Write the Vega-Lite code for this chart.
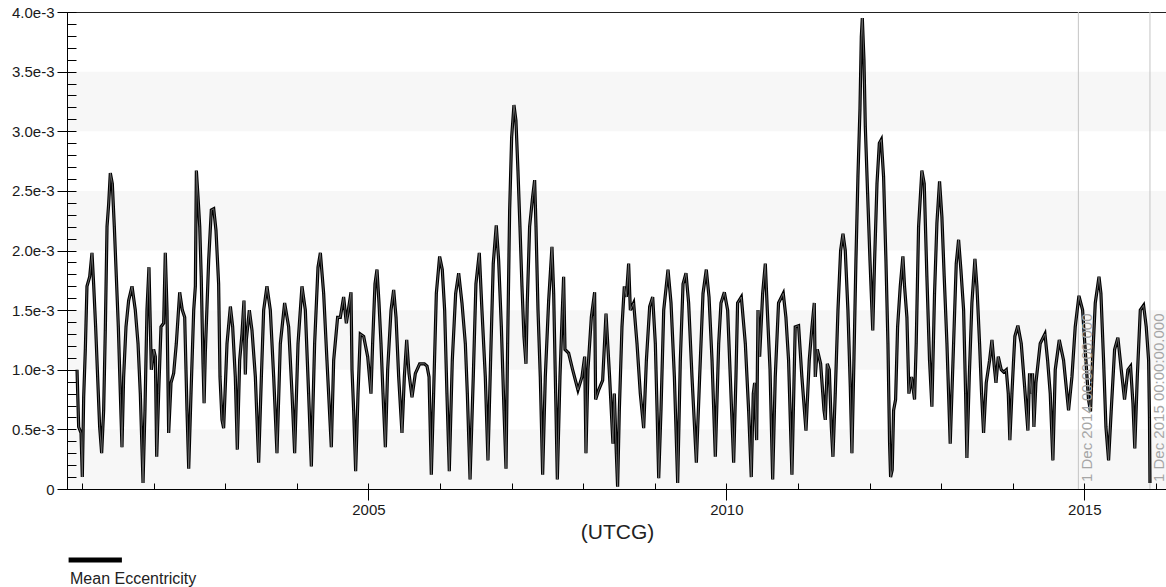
{
  "$schema": "https://vega.github.io/schema/vega-lite/v6.json",
  "width": 1100,
  "height": 477,
  "autosize": {"type": "none"},
  "padding": {"left": 67, "top": 12, "right": 0, "bottom": 98},
  "background": "white",
  "config": {
    "font": "Liberation Sans",
    "view": {"stroke": "#222222", "strokeWidth": 1},
    "axis": {"labelFont": "Liberation Sans", "titleFont": "Liberation Sans", "grid": false}
  },
  "datasets": {
    "ecc": [
      {"t":2000.930,"e":0.00100},{"t":2000.953,"e":0.00052},{"t":2000.986,"e":0.00047},{"t":2001.004,"e":0.00010},{"t":2001.023,"e":0.00077},{"t":2001.046,"e":0.00117},{"t":2001.069,"e":0.00170},{"t":2001.107,"e":0.00178},{"t":2001.139,"e":0.00198},{"t":2001.162,"e":0.00172},{"t":2001.190,"e":0.00136},{"t":2001.218,"e":0.00094},{"t":2001.246,"e":0.00052},{"t":2001.274,"e":0.00030},{"t":2001.302,"e":0.00066},{"t":2001.325,"e":0.00133},{"t":2001.349,"e":0.00220},{"t":2001.372,"e":0.00239},{"t":2001.395,"e":0.00265},{"t":2001.423,"e":0.00256},{"t":2001.451,"e":0.00220},{"t":2001.479,"e":0.00178},{"t":2001.507,"e":0.00136},{"t":2001.535,"e":0.00080},{"t":2001.558,"e":0.00035},{"t":2001.581,"e":0.00094},{"t":2001.614,"e":0.00136},{"t":2001.651,"e":0.00158},{"t":2001.698,"e":0.00170},{"t":2001.744,"e":0.00150},{"t":2001.782,"e":0.00122},{"t":2001.814,"e":0.00080},{"t":2001.852,"e":0.00005},{"t":2001.879,"e":0.00066},{"t":2001.907,"e":0.00150},{"t":2001.935,"e":0.00186},{"t":2001.954,"e":0.00136},{"t":2001.968,"e":0.00100},{"t":2002.000,"e":0.00117},{"t":2002.024,"e":0.00111},{"t":2002.043,"e":0.00027},{"t":2002.070,"e":0.00080},{"t":2002.103,"e":0.00136},{"t":2002.140,"e":0.00139},{"t":2002.163,"e":0.00198},{"t":2002.187,"e":0.00150},{"t":2002.210,"e":0.00047},{"t":2002.243,"e":0.00089},{"t":2002.280,"e":0.00097},{"t":2002.317,"e":0.00122},{"t":2002.364,"e":0.00165},{"t":2002.401,"e":0.00150},{"t":2002.434,"e":0.00144},{"t":2002.466,"e":0.00066},{"t":2002.490,"e":0.00017},{"t":2002.522,"e":0.00080},{"t":2002.560,"e":0.00150},{"t":2002.583,"e":0.00170},{"t":2002.597,"e":0.00267},{"t":2002.620,"e":0.00245},{"t":2002.644,"e":0.00220},{"t":2002.665,"e":0.00178},{"t":2002.690,"e":0.00105},{"t":2002.705,"e":0.00072},{"t":2002.722,"e":0.00114},{"t":2002.769,"e":0.00192},{"t":2002.806,"e":0.00234},{"t":2002.839,"e":0.00235},{"t":2002.871,"e":0.00217},{"t":2002.908,"e":0.00172},{"t":2002.927,"e":0.00094},{"t":2002.955,"e":0.00058},{"t":2002.978,"e":0.00051},{"t":2003.025,"e":0.00122},{"t":2003.072,"e":0.00153},{"t":2003.104,"e":0.00136},{"t":2003.141,"e":0.00094},{"t":2003.169,"e":0.00033},{"t":2003.202,"e":0.00108},{"t":2003.234,"e":0.00130},{"t":2003.262,"e":0.00158},{"t":2003.281,"e":0.00096},{"t":2003.295,"e":0.00125},{"t":2003.337,"e":0.00150},{"t":2003.374,"e":0.00133},{"t":2003.421,"e":0.00094},{"t":2003.467,"e":0.00022},{"t":2003.505,"e":0.00094},{"t":2003.537,"e":0.00150},{"t":2003.583,"e":0.00170},{"t":2003.630,"e":0.00150},{"t":2003.677,"e":0.00094},{"t":2003.723,"e":0.00030},{"t":2003.770,"e":0.00122},{"t":2003.830,"e":0.00156},{"t":2003.886,"e":0.00136},{"t":2003.933,"e":0.00080},{"t":2003.970,"e":0.00030},{"t":2004.017,"e":0.00122},{"t":2004.072,"e":0.00170},{"t":2004.119,"e":0.00150},{"t":2004.165,"e":0.00080},{"t":2004.203,"e":0.00019},{"t":2004.249,"e":0.00122},{"t":2004.296,"e":0.00186},{"t":2004.329,"e":0.00198},{"t":2004.375,"e":0.00164},{"t":2004.421,"e":0.00108},{"t":2004.482,"e":0.00035},{"t":2004.515,"e":0.00108},{"t":2004.570,"e":0.00144},{"t":2004.608,"e":0.00144},{"t":2004.654,"e":0.00161},{"t":2004.692,"e":0.00139},{"t":2004.757,"e":0.00165},{"t":2004.771,"e":0.00100},{"t":2004.794,"e":0.00066},{"t":2004.822,"e":0.00015},{"t":2004.855,"e":0.00080},{"t":2004.887,"e":0.00130},{"t":2004.934,"e":0.00128},{"t":2004.990,"e":0.00111},{"t":2005.036,"e":0.00080},{"t":2005.059,"e":0.00122},{"t":2005.092,"e":0.00172},{"t":2005.120,"e":0.00184},{"t":2005.148,"e":0.00156},{"t":2005.176,"e":0.00122},{"t":2005.204,"e":0.00080},{"t":2005.237,"e":0.00035},{"t":2005.269,"e":0.00100},{"t":2005.316,"e":0.00150},{"t":2005.353,"e":0.00167},{"t":2005.386,"e":0.00144},{"t":2005.423,"e":0.00094},{"t":2005.469,"e":0.00047},{"t":2005.502,"e":0.00094},{"t":2005.535,"e":0.00125},{"t":2005.567,"e":0.00097},{"t":2005.609,"e":0.00077},{"t":2005.656,"e":0.00097},{"t":2005.716,"e":0.00105},{"t":2005.782,"e":0.00105},{"t":2005.819,"e":0.00103},{"t":2005.847,"e":0.00094},{"t":2005.879,"e":0.00012},{"t":2005.911,"e":0.00080},{"t":2005.949,"e":0.00164},{"t":2005.995,"e":0.00195},{"t":2006.032,"e":0.00184},{"t":2006.065,"e":0.00150},{"t":2006.097,"e":0.00080},{"t":2006.130,"e":0.00015},{"t":2006.172,"e":0.00108},{"t":2006.219,"e":0.00164},{"t":2006.261,"e":0.00181},{"t":2006.307,"e":0.00156},{"t":2006.354,"e":0.00122},{"t":2006.382,"e":0.00080},{"t":2006.420,"e":0.00008},{"t":2006.465,"e":0.00094},{"t":2006.502,"e":0.00172},{"t":2006.549,"e":0.00198},{"t":2006.586,"e":0.00150},{"t":2006.633,"e":0.00094},{"t":2006.670,"e":0.00024},{"t":2006.707,"e":0.00108},{"t":2006.744,"e":0.00189},{"t":2006.786,"e":0.00221},{"t":2006.819,"e":0.00192},{"t":2006.857,"e":0.00136},{"t":2006.894,"e":0.00066},{"t":2006.922,"e":0.00017},{"t":2006.945,"e":0.00122},{"t":2006.973,"e":0.00234},{"t":2007.001,"e":0.00295},{"t":2007.033,"e":0.00322},{"t":2007.061,"e":0.00309},{"t":2007.089,"e":0.00267},{"t":2007.117,"e":0.00220},{"t":2007.145,"e":0.00170},{"t":2007.173,"e":0.00128},{"t":2007.201,"e":0.00105},{"t":2007.219,"e":0.00156},{"t":2007.252,"e":0.00220},{"t":2007.294,"e":0.00245},{"t":2007.322,"e":0.00259},{"t":2007.341,"e":0.00220},{"t":2007.369,"e":0.00150},{"t":2007.401,"e":0.00094},{"t":2007.434,"e":0.00012},{"t":2007.471,"e":0.00094},{"t":2007.518,"e":0.00158},{"t":2007.564,"e":0.00203},{"t":2007.588,"e":0.00164},{"t":2007.611,"e":0.00094},{"t":2007.639,"e":0.00008},{"t":2007.676,"e":0.00094},{"t":2007.709,"e":0.00150},{"t":2007.727,"e":0.00178},{"t":2007.746,"e":0.00117},{"t":2007.797,"e":0.00114},{"t":2007.853,"e":0.00100},{"t":2007.927,"e":0.00083},{"t":2007.983,"e":0.00094},{"t":2008.021,"e":0.00111},{"t":2008.039,"e":0.00030},{"t":2008.067,"e":0.00100},{"t":2008.114,"e":0.00144},{"t":2008.160,"e":0.00165},{"t":2008.174,"e":0.00075},{"t":2008.216,"e":0.00083},{"t":2008.272,"e":0.00091},{"t":2008.319,"e":0.00147},{"t":2008.369,"e":0.00094},{"t":2008.416,"e":0.00038},{"t":2008.435,"e":0.00080},{"t":2008.463,"e":0.00030},{"t":2008.481,"e":0.00002},{"t":2008.505,"e":0.00066},{"t":2008.542,"e":0.00136},{"t":2008.575,"e":0.00170},{"t":2008.603,"e":0.00161},{"t":2008.635,"e":0.00189},{"t":2008.659,"e":0.00150},{"t":2008.705,"e":0.00156},{"t":2008.752,"e":0.00122},{"t":2008.798,"e":0.00080},{"t":2008.845,"e":0.00051},{"t":2008.883,"e":0.00108},{"t":2008.929,"e":0.00153},{"t":2008.971,"e":0.00161},{"t":2009.008,"e":0.00122},{"t":2009.032,"e":0.00066},{"t":2009.055,"e":0.00009},{"t":2009.087,"e":0.00066},{"t":2009.125,"e":0.00150},{"t":2009.185,"e":0.00184},{"t":2009.227,"e":0.00156},{"t":2009.274,"e":0.00094},{"t":2009.320,"e":0.00005},{"t":2009.357,"e":0.00108},{"t":2009.395,"e":0.00172},{"t":2009.436,"e":0.00181},{"t":2009.473,"e":0.00156},{"t":2009.520,"e":0.00094},{"t":2009.581,"e":0.00022},{"t":2009.627,"e":0.00094},{"t":2009.674,"e":0.00164},{"t":2009.720,"e":0.00184},{"t":2009.758,"e":0.00161},{"t":2009.800,"e":0.00108},{"t":2009.846,"e":0.00027},{"t":2009.893,"e":0.00122},{"t":2009.925,"e":0.00156},{"t":2009.972,"e":0.00165},{"t":2010.018,"e":0.00150},{"t":2010.055,"e":0.00094},{"t":2010.102,"e":0.00022},{"t":2010.134,"e":0.00094},{"t":2010.157,"e":0.00156},{"t":2010.209,"e":0.00161},{"t":2010.265,"e":0.00122},{"t":2010.311,"e":0.00066},{"t":2010.348,"e":0.00010},{"t":2010.376,"e":0.00080},{"t":2010.395,"e":0.00089},{"t":2010.423,"e":0.00041},{"t":2010.442,"e":0.00150},{"t":2010.465,"e":0.00111},{"t":2010.507,"e":0.00164},{"t":2010.544,"e":0.00189},{"t":2010.572,"e":0.00150},{"t":2010.610,"e":0.00100},{"t":2010.647,"e":0.00008},{"t":2010.683,"e":0.00094},{"t":2010.729,"e":0.00156},{"t":2010.795,"e":0.00164},{"t":2010.832,"e":0.00144},{"t":2010.869,"e":0.00108},{"t":2010.916,"e":0.00012},{"t":2010.962,"e":0.00136},{"t":2011.009,"e":0.00137},{"t":2011.055,"e":0.00094},{"t":2011.112,"e":0.00049},{"t":2011.158,"e":0.00108},{"t":2011.196,"e":0.00136},{"t":2011.228,"e":0.00156},{"t":2011.242,"e":0.00094},{"t":2011.270,"e":0.00117},{"t":2011.317,"e":0.00105},{"t":2011.364,"e":0.00066},{"t":2011.382,"e":0.00058},{"t":2011.410,"e":0.00105},{"t":2011.438,"e":0.00100},{"t":2011.466,"e":0.00052},{"t":2011.489,"e":0.00027},{"t":2011.521,"e":0.00080},{"t":2011.559,"e":0.00150},{"t":2011.596,"e":0.00200},{"t":2011.629,"e":0.00214},{"t":2011.661,"e":0.00200},{"t":2011.698,"e":0.00150},{"t":2011.731,"e":0.00086},{"t":2011.754,"e":0.00030},{"t":2011.782,"e":0.00108},{"t":2011.810,"e":0.00192},{"t":2011.838,"e":0.00262},{"t":2011.866,"e":0.00318},{"t":2011.885,"e":0.00379},{"t":2011.899,"e":0.00395},{"t":2011.922,"e":0.00360},{"t":2011.941,"e":0.00304},{"t":2011.973,"e":0.00248},{"t":2012.006,"e":0.00192},{"t":2012.045,"e":0.00133},{"t":2012.071,"e":0.00192},{"t":2012.104,"e":0.00256},{"t":2012.137,"e":0.00290},{"t":2012.164,"e":0.00293},{"t":2012.196,"e":0.00262},{"t":2012.229,"e":0.00192},{"t":2012.257,"e":0.00122},{"t":2012.280,"e":0.00038},{"t":2012.294,"e":0.00010},{"t":2012.317,"e":0.00016},{"t":2012.336,"e":0.00066},{"t":2012.364,"e":0.00075},{"t":2012.392,"e":0.00136},{"t":2012.429,"e":0.00170},{"t":2012.466,"e":0.00195},{"t":2012.489,"e":0.00170},{"t":2012.522,"e":0.00144},{"t":2012.550,"e":0.00080},{"t":2012.587,"e":0.00094},{"t":2012.629,"e":0.00075},{"t":2012.652,"e":0.00122},{"t":2012.685,"e":0.00220},{"t":2012.731,"e":0.00267},{"t":2012.764,"e":0.00256},{"t":2012.801,"e":0.00178},{"t":2012.838,"e":0.00108},{"t":2012.871,"e":0.00069},{"t":2012.908,"e":0.00164},{"t":2012.941,"e":0.00223},{"t":2012.978,"e":0.00258},{"t":2013.011,"e":0.00228},{"t":2013.043,"e":0.00178},{"t":2013.081,"e":0.00122},{"t":2013.127,"e":0.00038},{"t":2013.174,"e":0.00122},{"t":2013.211,"e":0.00189},{"t":2013.244,"e":0.00209},{"t":2013.276,"e":0.00184},{"t":2013.314,"e":0.00150},{"t":2013.342,"e":0.00080},{"t":2013.360,"e":0.00026},{"t":2013.393,"e":0.00094},{"t":2013.430,"e":0.00156},{"t":2013.472,"e":0.00193},{"t":2013.500,"e":0.00170},{"t":2013.537,"e":0.00122},{"t":2013.565,"e":0.00080},{"t":2013.593,"e":0.00047},{"t":2013.630,"e":0.00089},{"t":2013.677,"e":0.00108},{"t":2013.710,"e":0.00125},{"t":2013.742,"e":0.00103},{"t":2013.766,"e":0.00089},{"t":2013.798,"e":0.00111},{"t":2013.840,"e":0.00100},{"t":2013.873,"e":0.00098},{"t":2013.910,"e":0.00100},{"t":2013.938,"e":0.00080},{"t":2013.960,"e":0.00041},{"t":2013.989,"e":0.00080},{"t":2014.012,"e":0.00108},{"t":2014.030,"e":0.00128},{"t":2014.072,"e":0.00137},{"t":2014.119,"e":0.00122},{"t":2014.166,"e":0.00086},{"t":2014.212,"e":0.00049},{"t":2014.235,"e":0.00097},{"t":2014.259,"e":0.00080},{"t":2014.277,"e":0.00097},{"t":2014.296,"e":0.00052},{"t":2014.324,"e":0.00089},{"t":2014.384,"e":0.00122},{"t":2014.450,"e":0.00130},{"t":2014.487,"e":0.00108},{"t":2014.524,"e":0.00080},{"t":2014.561,"e":0.00024},{"t":2014.594,"e":0.00100},{"t":2014.650,"e":0.00125},{"t":2014.710,"e":0.00108},{"t":2014.780,"e":0.00066},{"t":2014.827,"e":0.00094},{"t":2014.873,"e":0.00136},{"t":2014.925,"e":0.00162},{"t":2014.976,"e":0.00150},{"t":2015.022,"e":0.00108},{"t":2015.059,"e":0.00075},{"t":2015.087,"e":0.00065},{"t":2015.115,"e":0.00108},{"t":2015.153,"e":0.00156},{"t":2015.205,"e":0.00178},{"t":2015.232,"e":0.00164},{"t":2015.269,"e":0.00108},{"t":2015.302,"e":0.00052},{"t":2015.339,"e":0.00024},{"t":2015.376,"e":0.00066},{"t":2015.423,"e":0.00117},{"t":2015.469,"e":0.00127},{"t":2015.516,"e":0.00100},{"t":2015.562,"e":0.00075},{"t":2015.609,"e":0.00100},{"t":2015.646,"e":0.00103},{"t":2015.679,"e":0.00072},{"t":2015.705,"e":0.00034},{"t":2015.740,"e":0.00094},{"t":2015.782,"e":0.00150},{"t":2015.828,"e":0.00154},{"t":2015.865,"e":0.00136},{"t":2015.898,"e":0.00108},{"t":2015.910,"e":0.00060},{"t":2015.917,"e":0.00005}
    ],
    "bands": [
      {"lo":0,"hi":0.0005},{"lo":0.001,"hi":0.0015},{"lo":0.002,"hi":0.0025},{"lo":0.003,"hi":0.0035}
    ],
    "markers": [
      {"t":2014.917,"label":"1 Dec 2014 00:00:00.000"},
      {"t":2015.917,"label":"1 Dec 2015 00:00:00.000"}
    ]
  },
  "resolve": {"axis": {"x": "independent", "y": "independent"}},
  "layer": [
    {
      "data": {"name": "bands"},
      "mark": {"type": "rect", "color": "#f7f7f7"},
      "encoding": {
        "y": {"field": "lo", "type": "quantitative",
          "scale": {"domain": [0, 0.004], "nice": false, "zero": true},
          "axis": {"orient": "left", "values": [0,0.0001,0.0002,0.0003,0.0004,0.0005,0.0006,0.0007,0.0008,0.0009,0.001,0.0011,0.0012,0.0013,0.0014,0.0015,0.0016,0.0017,0.0018,0.0019,0.002,0.0021,0.0022,0.0023,0.0024,0.0025,0.0026,0.0027,0.0028,0.0029,0.003,0.0031,0.0032,0.0033,0.0034,0.0035,0.0036,0.0037,0.0038,0.0039,0.004],
            "labels": false, "domain": false, "ticks": true, "tickSize": 9, "offset": -9, "tickColor": "#000000", "title": null, "grid": false, "zindex": 1}},
        "y2": {"field": "hi"}
      }
    },
    {
      "data": {"name": "markers"},
      "mark": {"type": "rule", "color": "#c4c4c4", "strokeWidth": 1},
      "encoding": {
        "x": {"field": "t", "type": "quantitative",
          "scale": {"domain": [2000.79, 2016.155], "nice": false, "zero": false},
          "axis": {"orient": "bottom", "values": [2001,2002,2003,2004,2005,2006,2007,2008,2009,2010,2011,2012,2013,2014,2015,2016],
            "labels": false, "domain": false, "ticks": true, "tickSize": 6, "offset": -6, "tickColor": "#000000", "title": null, "grid": false, "zindex": 1}}
      }
    },
    {
      "data": {"name": "ecc"},
      "mark": {"type": "line", "strokeWidth": 3.2, "interpolate": "linear"},
      "encoding": {
        "x": {"field": "t", "type": "quantitative",
          "scale": {"domain": [2000.79, 2016.155], "nice": false, "zero": false},
          "axis": {"orient": "bottom", "values": [2005, 2010, 2015], "format": "d", "tickSize": 11, "tickColor": "#000000",
            "domainColor": "#000000", "labelFontSize": 15, "labelColor": "#1a1a1a", "labelPadding": 2, "zindex": 1,
            "title": "(UTCG)", "titleFontSize": 21, "titleFontWeight": "normal", "titleColor": "#222222", "titlePadding": 4}},
        "y": {"field": "e", "type": "quantitative",
          "scale": {"domain": [0, 0.004], "nice": false, "zero": true},
          "axis": {"orient": "left", "values": [0,0.0005,0.001,0.0015,0.002,0.0025,0.003,0.0035,0.004],
            "labelExpr": "datum.value == 0 ? '0' : format(datum.value * 1000, '.1f') + 'e-3'",
            "tickSize": 10, "tickColor": "#000000", "domainColor": "#000000", "labelFontSize": 15, "labelColor": "#1a1a1a",
            "labelPadding": 3, "title": null, "zindex": 1}},
        "color": {"datum": "Mean Eccentricity", "type": "nominal", "scale": {"range": ["#000000"]},
          "legend": {"orient": "none", "legendX": 3, "legendY": 539, "title": "Mean Eccentricity", "titleOrient": "bottom",
            "titleFontSize": 16, "titleFontWeight": "normal", "titleColor": "#222222", "titlePadding": 1, "titleFont": "Liberation Sans",
            "labelExpr": "''", "symbolType": "M-1.6,0H6.6", "symbolSize": 169, "symbolStrokeWidth": 5, "symbolStrokeColor": "#000000", "padding": 0}}
      }
    },
    {
      "data": {"name": "ecc"},
      "mark": {"type": "line", "strokeWidth": 0.8, "color": "#777777", "interpolate": "linear"},
      "encoding": {
        "x": {"field": "t", "type": "quantitative", "scale": {"domain": [2000.79, 2016.155], "nice": false, "zero": false}, "axis": null},
        "y": {"field": "e", "type": "quantitative", "scale": {"domain": [0, 0.004], "nice": false, "zero": true}, "axis": null}
      }
    },
    {
      "data": {"name": "markers"},
      "mark": {"type": "text", "angle": 270, "align": "left", "baseline": "top", "dx": 7, "dy": 2, "fontSize": 15, "color": "#a6a6a6", "font": "Liberation Sans"},
      "encoding": {
        "x": {"field": "t", "type": "quantitative", "scale": {"domain": [2000.79, 2016.155], "nice": false, "zero": false}, "axis": null},
        "y": {"datum": 0, "type": "quantitative", "scale": {"domain": [0, 0.004], "nice": false, "zero": true}, "axis": null},
        "text": {"field": "label"}
      }
    }
  ]
}
